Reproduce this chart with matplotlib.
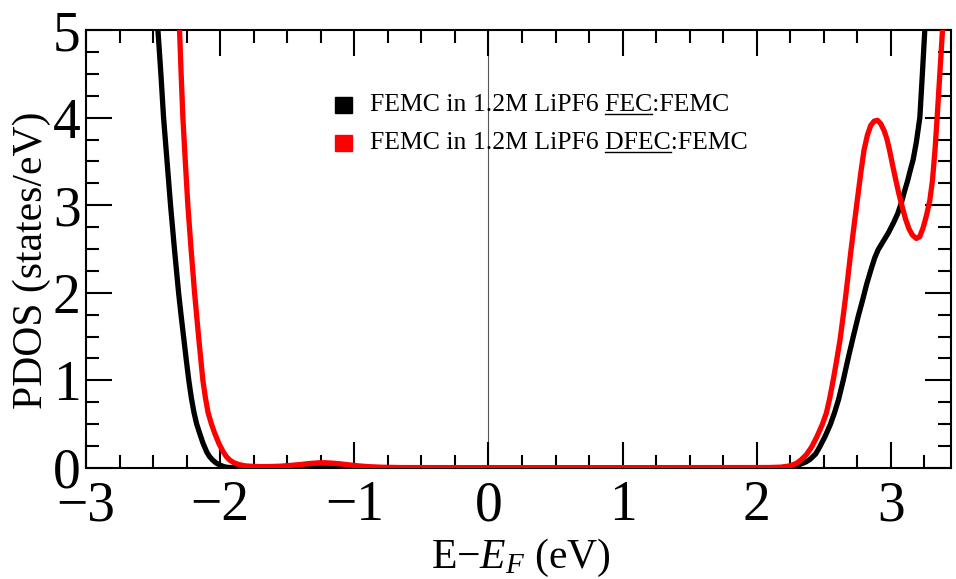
import matplotlib
matplotlib.use("Agg")
import matplotlib.pyplot as plt
from matplotlib.ticker import MultipleLocator
from matplotlib.lines import Line2D

# Data (PDOS, states/eV vs E-EF, eV)
black_x = [-2.50, -2.464, -2.442, -2.422, -2.396, -2.370, -2.341, -2.310, -2.292,
           -2.273, -2.254, -2.234, -2.215, -2.195, -2.175, -2.154, -2.13, -2.10,
           -2.08, -2.057, -2.03, -2.00, -1.975, -1.953, -1.92, -1.88, -1.80,
           -1.5, -1.0, -0.5, 0.0, 0.5, 1.0, 1.5, 2.0, 2.20, 2.26, 2.30, 2.34,
           2.37, 2.40, 2.44, 2.47, 2.51, 2.55, 2.58, 2.61, 2.645, 2.68, 2.72,
           2.755, 2.79, 2.82, 2.855, 2.88, 2.905, 2.94, 2.98, 3.02, 3.05, 3.077,
           3.10, 3.125, 3.145, 3.166, 3.19, 3.216, 3.235, 3.253, 3.27]
black_y = [5.8, 5.0, 4.5, 4.0, 3.5, 3.0, 2.5, 2.0, 1.75,
           1.5, 1.25, 1.0, 0.80, 0.63, 0.50, 0.40, 0.29, 0.18,
           0.13, 0.09, 0.055, 0.03, 0.015, 0.007, 0.003, 0.001, 0.0,
           0.0, 0.0, 0.0, 0.0, 0.0, 0.0, 0.0, 0.0, 0.0, 0.01, 0.025, 0.05,
           0.07, 0.10, 0.16, 0.24, 0.36, 0.50, 0.63, 0.78, 1.0, 1.24, 1.50,
           1.72, 1.92, 2.10, 2.28, 2.40, 2.49, 2.58, 2.68, 2.80, 2.90, 3.02,
           3.15, 3.28, 3.40, 3.52, 3.72, 4.0, 4.5, 5.0, 5.6]

red_x = [-2.33, -2.303, -2.291, -2.278, -2.260, -2.241, -2.217, -2.191, -2.176,
         -2.161, -2.145, -2.129, -2.11, -2.09, -2.065, -2.042, -2.01, -1.98,
         -1.955, -1.93, -1.90, -1.87, -1.84, -1.81, -1.75, -1.70, -1.62, -1.55,
         -1.48, -1.40, -1.33, -1.27, -1.22, -1.16, -1.10, -1.04, -0.98, -0.90,
         -0.80, -0.65, 0.0, 1.0, 2.0, 2.10, 2.18, 2.23, 2.27, 2.30, 2.33, 2.37,
         2.41, 2.45, 2.49, 2.52, 2.545, 2.57, 2.595, 2.62, 2.64, 2.66, 2.68,
         2.70, 2.725, 2.75, 2.775, 2.80, 2.825, 2.85, 2.875, 2.90, 2.925, 2.95,
         2.97, 2.99, 3.01, 3.035, 3.06, 3.085, 3.11, 3.135, 3.16, 3.19, 3.215,
         3.24, 3.265, 3.29, 3.31, 3.33, 3.345, 3.365, 3.385, 3.40]
red_y = [5.8, 5.0, 4.5, 4.0, 3.5, 3.0, 2.5, 2.0, 1.75,
         1.5, 1.25, 1.0, 0.80, 0.63, 0.50, 0.40, 0.28, 0.19,
         0.13, 0.09, 0.06, 0.042, 0.03, 0.022, 0.016, 0.014, 0.015, 0.019,
         0.027, 0.038, 0.050, 0.057, 0.058, 0.053, 0.045, 0.034, 0.024, 0.014,
         0.007, 0.003, 0.002, 0.002, 0.003, 0.004, 0.008, 0.018, 0.035, 0.055, 0.09, 0.15,
         0.24, 0.36, 0.50, 0.63, 0.80, 1.0, 1.22, 1.45, 1.68, 1.92, 2.18,
         2.45, 2.76, 3.06, 3.36, 3.63, 3.80, 3.91, 3.96, 3.97, 3.93, 3.85,
         3.76, 3.63, 3.48, 3.30, 3.13, 2.98, 2.84, 2.73, 2.66, 2.62, 2.64,
         2.74, 2.88, 3.05, 3.28, 3.65, 4.0, 4.5, 5.0, 5.5]

labels = ["FEMC in 1.2M LiPF6 ", "FEC", ":FEMC",
          "FEMC in 1.2M LiPF6 ", "DFEC", ":FEMC"]
xticks = [-3, -2, -1, 0, 1, 2, 3]
yticks = [0, 1, 2, 3, 4, 5]

plt.rcParams['font.family'] = ['Liberation Serif', 'DejaVu Serif']
plt.rcParams['mathtext.fontset'] = 'custom'
plt.rcParams['mathtext.it'] = 'Liberation Serif:italic'
plt.rcParams['mathtext.rm'] = 'Liberation Serif'

fig = plt.figure(figsize=(9.56, 5.79), dpi=100)
ax = fig.add_axes([0.09, 0.192, 0.905, 0.756])

ax.axvline(0, color='#555555', lw=0.8, zorder=1)
ax.plot(black_x, black_y, color='black', lw=3.8, zorder=3,
        solid_capstyle='round', solid_joinstyle='round')
ax.plot(red_x, red_y, color='#ff0000', lw=3.8, zorder=4,
        solid_capstyle='round', solid_joinstyle='round')

ax.set_xlim(-3, 3.45)
ax.set_ylim(0, 5)
ax.set_xticks(xticks)
ax.set_yticks(yticks)
ax.set_xticklabels(["\u2212%d" % abs(t) if t < 0 else str(t) for t in xticks])
ax.xaxis.set_minor_locator(MultipleLocator(0.25))
ax.yaxis.set_minor_locator(MultipleLocator(0.25))
ax.tick_params(which='both', direction='in', top=True, right=True, width=1.5)
ax.tick_params(which='major', length=18.5, labelsize=40)
ax.tick_params(which='minor', length=9.5)
ax.tick_params(axis='x', which='major', pad=9)
ax.tick_params(axis='y', which='major', pad=4)
for s in ax.spines.values():
    s.set_linewidth(1.5)

ax.set_xlabel(r"E$-E_F$ (eV)", fontsize=30)
ax.set_ylabel("PDOS (states/eV)", fontsize=30)
ax.xaxis.set_label_coords(0.503, -0.158)
ax.yaxis.set_label_coords(-0.041, 0.475)

# Legend drawn as text with underlined parts
fig.canvas.draw()
renderer = fig.canvas.get_renderer()
fs = 18.5
rows = [(0.819, 'black', labels[0:3]), (0.753, '#ff0000', labels[3:6])]
x0 = 0.387
inv = fig.transFigure.inverted()
for ypos, col, parts in rows:
    fig.patches.append(plt.Rectangle((0.350, ypos - 0.014), 0.018, 0.028,
                                     transform=fig.transFigure, color=col,
                                     figure=fig))
    full = "".join(parts)
    t = fig.text(x0, ypos, full, fontsize=fs, va='center', ha='left')
    pre = fig.text(x0, ypos, parts[0] + parts[1], fontsize=fs, va='center', alpha=0)
    word = fig.text(x0, ypos, parts[1], fontsize=fs, va='center', alpha=0)
    bb_pre = pre.get_window_extent(renderer)
    bb_word = word.get_window_extent(renderer)
    bb_t = t.get_window_extent(renderer)
    xe = bb_pre.x1
    xs = xe - bb_word.width
    yl = bb_t.y0 + 2
    (fx0, fy), (fx1, _) = inv.transform([(xs, yl), (xe, yl)])
    fig.add_artist(Line2D([fx0, fx1], [fy, fy], transform=fig.transFigure,
                          color='black', lw=1.0))
    pre.remove()
    word.remove()

fig.savefig("out.png", dpi=100)
